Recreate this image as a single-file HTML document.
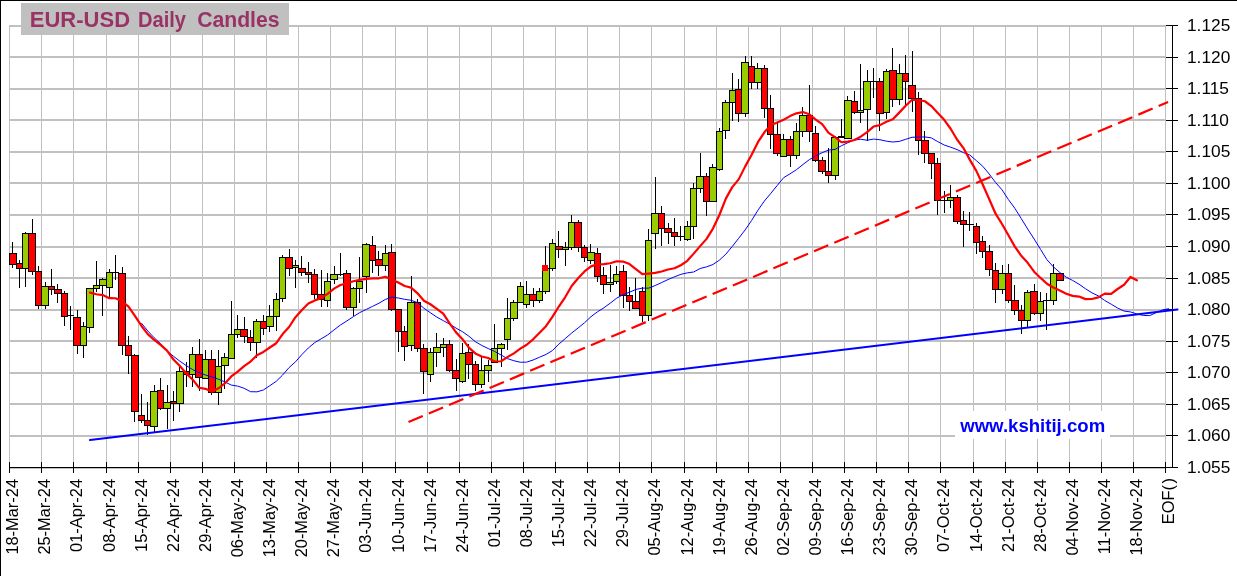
<!DOCTYPE html><html><head><meta charset="utf-8"><style>html,body{margin:0;padding:0;background:#fff;overflow:hidden;}svg{display:block;will-change:transform;}text{font-family:"Liberation Sans",sans-serif;}</style></head><body><svg width="1237" height="576" viewBox="0 0 1237 576"><rect x="0" y="0" width="1237" height="576" fill="#fff"/><g stroke="#c0c0c0" stroke-width="1" shape-rendering="crispEdges" fill="none"><line x1="9.5" y1="25" x2="9.5" y2="467"/><line x1="41.5" y1="25" x2="41.5" y2="467"/><line x1="73.5" y1="25" x2="73.5" y2="467"/><line x1="106.5" y1="25" x2="106.5" y2="467"/><line x1="138.5" y1="25" x2="138.5" y2="467"/><line x1="170.5" y1="25" x2="170.5" y2="467"/><line x1="202.5" y1="25" x2="202.5" y2="467"/><line x1="234.5" y1="25" x2="234.5" y2="467"/><line x1="266.5" y1="25" x2="266.5" y2="467"/><line x1="298.5" y1="25" x2="298.5" y2="467"/><line x1="330.5" y1="25" x2="330.5" y2="467"/><line x1="362.5" y1="25" x2="362.5" y2="467"/><line x1="395.5" y1="25" x2="395.5" y2="467"/><line x1="427.5" y1="25" x2="427.5" y2="467"/><line x1="459.5" y1="25" x2="459.5" y2="467"/><line x1="491.5" y1="25" x2="491.5" y2="467"/><line x1="523.5" y1="25" x2="523.5" y2="467"/><line x1="555.5" y1="25" x2="555.5" y2="467"/><line x1="587.5" y1="25" x2="587.5" y2="467"/><line x1="619.5" y1="25" x2="619.5" y2="467"/><line x1="651.5" y1="25" x2="651.5" y2="467"/><line x1="684.5" y1="25" x2="684.5" y2="467"/><line x1="716.5" y1="25" x2="716.5" y2="467"/><line x1="748.5" y1="25" x2="748.5" y2="467"/><line x1="780.5" y1="25" x2="780.5" y2="467"/><line x1="812.5" y1="25" x2="812.5" y2="467"/><line x1="844.5" y1="25" x2="844.5" y2="467"/><line x1="876.5" y1="25" x2="876.5" y2="467"/><line x1="908.5" y1="25" x2="908.5" y2="467"/><line x1="940.5" y1="25" x2="940.5" y2="467"/><line x1="973.5" y1="25" x2="973.5" y2="467"/><line x1="1005.5" y1="25" x2="1005.5" y2="467"/><line x1="1037.5" y1="25" x2="1037.5" y2="467"/><line x1="1069.5" y1="25" x2="1069.5" y2="467"/><line x1="1101.5" y1="25" x2="1101.5" y2="467"/><line x1="1133.5" y1="25" x2="1133.5" y2="467"/><line x1="1165.5" y1="25" x2="1165.5" y2="467"/><line x1="9" y1="26" x2="1166" y2="26" stroke-width="2"/><line x1="9" y1="57" x2="1166" y2="57" stroke-width="2"/><line x1="9" y1="89" x2="1166" y2="89" stroke-width="2"/><line x1="9" y1="120" x2="1166" y2="120" stroke-width="2"/><line x1="9" y1="152" x2="1166" y2="152" stroke-width="2"/><line x1="9" y1="183" x2="1166" y2="183" stroke-width="2"/><line x1="9" y1="215" x2="1166" y2="215" stroke-width="2"/><line x1="9" y1="247" x2="1166" y2="247" stroke-width="2"/><line x1="9" y1="278" x2="1166" y2="278" stroke-width="2"/><line x1="9" y1="310" x2="1166" y2="310" stroke-width="2"/><line x1="9" y1="341" x2="1166" y2="341" stroke-width="2"/><line x1="9" y1="373" x2="1166" y2="373" stroke-width="2"/><line x1="9" y1="404" x2="1166" y2="404" stroke-width="2"/><line x1="9" y1="436" x2="1166" y2="436" stroke-width="2"/><line x1="9" y1="468" x2="1166" y2="468" stroke-width="2"/></g><g stroke="#000" stroke-width="1" shape-rendering="crispEdges" fill="none"><line x1="1172.5" y1="25" x2="1172.5" y2="468"/><line x1="9" y1="467.5" x2="1178" y2="467.5"/><line x1="1166" y1="25.5" x2="1178" y2="25.5"/><line x1="1166" y1="57.5" x2="1178" y2="57.5"/><line x1="1166" y1="88.5" x2="1178" y2="88.5"/><line x1="1166" y1="120.5" x2="1178" y2="120.5"/><line x1="1166" y1="151.5" x2="1178" y2="151.5"/><line x1="1166" y1="183.5" x2="1178" y2="183.5"/><line x1="1166" y1="214.5" x2="1178" y2="214.5"/><line x1="1166" y1="246.5" x2="1178" y2="246.5"/><line x1="1166" y1="278.5" x2="1178" y2="278.5"/><line x1="1166" y1="309.5" x2="1178" y2="309.5"/><line x1="1166" y1="341.5" x2="1178" y2="341.5"/><line x1="1166" y1="372.5" x2="1178" y2="372.5"/><line x1="1166" y1="404.5" x2="1178" y2="404.5"/><line x1="1166" y1="435.5" x2="1178" y2="435.5"/><line x1="1166" y1="467.5" x2="1178" y2="467.5"/><line x1="9.5" y1="462" x2="9.5" y2="473"/><line x1="41.5" y1="462" x2="41.5" y2="473"/><line x1="73.5" y1="462" x2="73.5" y2="473"/><line x1="106.5" y1="462" x2="106.5" y2="473"/><line x1="138.5" y1="462" x2="138.5" y2="473"/><line x1="170.5" y1="462" x2="170.5" y2="473"/><line x1="202.5" y1="462" x2="202.5" y2="473"/><line x1="234.5" y1="462" x2="234.5" y2="473"/><line x1="266.5" y1="462" x2="266.5" y2="473"/><line x1="298.5" y1="462" x2="298.5" y2="473"/><line x1="330.5" y1="462" x2="330.5" y2="473"/><line x1="362.5" y1="462" x2="362.5" y2="473"/><line x1="395.5" y1="462" x2="395.5" y2="473"/><line x1="427.5" y1="462" x2="427.5" y2="473"/><line x1="459.5" y1="462" x2="459.5" y2="473"/><line x1="491.5" y1="462" x2="491.5" y2="473"/><line x1="523.5" y1="462" x2="523.5" y2="473"/><line x1="555.5" y1="462" x2="555.5" y2="473"/><line x1="587.5" y1="462" x2="587.5" y2="473"/><line x1="619.5" y1="462" x2="619.5" y2="473"/><line x1="651.5" y1="462" x2="651.5" y2="473"/><line x1="684.5" y1="462" x2="684.5" y2="473"/><line x1="716.5" y1="462" x2="716.5" y2="473"/><line x1="748.5" y1="462" x2="748.5" y2="473"/><line x1="780.5" y1="462" x2="780.5" y2="473"/><line x1="812.5" y1="462" x2="812.5" y2="473"/><line x1="844.5" y1="462" x2="844.5" y2="473"/><line x1="876.5" y1="462" x2="876.5" y2="473"/><line x1="908.5" y1="462" x2="908.5" y2="473"/><line x1="940.5" y1="462" x2="940.5" y2="473"/><line x1="973.5" y1="462" x2="973.5" y2="473"/><line x1="1005.5" y1="462" x2="1005.5" y2="473"/><line x1="1037.5" y1="462" x2="1037.5" y2="473"/><line x1="1069.5" y1="462" x2="1069.5" y2="473"/><line x1="1101.5" y1="462" x2="1101.5" y2="473"/><line x1="1133.5" y1="462" x2="1133.5" y2="473"/><line x1="1165.5" y1="462" x2="1165.5" y2="473"/></g><g font-size="17.3" fill="#000"><text x="1187" y="31.3">1.125</text><text x="1187" y="63.3">1.120</text><text x="1187" y="94.3">1.115</text><text x="1187" y="126.3">1.110</text><text x="1187" y="157.3">1.105</text><text x="1187" y="189.3">1.100</text><text x="1187" y="220.3">1.095</text><text x="1187" y="252.3">1.090</text><text x="1187" y="284.3">1.085</text><text x="1187" y="315.3">1.080</text><text x="1187" y="347.3">1.075</text><text x="1187" y="378.3">1.070</text><text x="1187" y="410.3">1.065</text><text x="1187" y="441.3">1.060</text><text x="1187" y="473.3">1.055</text></g><g font-size="16.4" fill="#000" text-anchor="end"><text transform="translate(18,479) rotate(-90)" x="0" y="0">18-Mar-24</text><text transform="translate(50,479) rotate(-90)" x="0" y="0">25-Mar-24</text><text transform="translate(82,479) rotate(-90)" x="0" y="0">01-Apr-24</text><text transform="translate(115,479) rotate(-90)" x="0" y="0">08-Apr-24</text><text transform="translate(147,479) rotate(-90)" x="0" y="0">15-Apr-24</text><text transform="translate(179,479) rotate(-90)" x="0" y="0">22-Apr-24</text><text transform="translate(211,479) rotate(-90)" x="0" y="0">29-Apr-24</text><text transform="translate(243,479) rotate(-90)" x="0" y="0">06-May-24</text><text transform="translate(275,479) rotate(-90)" x="0" y="0">13-May-24</text><text transform="translate(307,479) rotate(-90)" x="0" y="0">20-May-24</text><text transform="translate(339,479) rotate(-90)" x="0" y="0">27-May-24</text><text transform="translate(371,479) rotate(-90)" x="0" y="0">03-Jun-24</text><text transform="translate(404,479) rotate(-90)" x="0" y="0">10-Jun-24</text><text transform="translate(436,479) rotate(-90)" x="0" y="0">17-Jun-24</text><text transform="translate(468,479) rotate(-90)" x="0" y="0">24-Jun-24</text><text transform="translate(500,479) rotate(-90)" x="0" y="0">01-Jul-24</text><text transform="translate(532,479) rotate(-90)" x="0" y="0">08-Jul-24</text><text transform="translate(564,479) rotate(-90)" x="0" y="0">15-Jul-24</text><text transform="translate(596,479) rotate(-90)" x="0" y="0">22-Jul-24</text><text transform="translate(628,479) rotate(-90)" x="0" y="0">29-Jul-24</text><text transform="translate(660,479) rotate(-90)" x="0" y="0">05-Aug-24</text><text transform="translate(693,479) rotate(-90)" x="0" y="0">12-Aug-24</text><text transform="translate(725,479) rotate(-90)" x="0" y="0">19-Aug-24</text><text transform="translate(757,479) rotate(-90)" x="0" y="0">26-Aug-24</text><text transform="translate(789,479) rotate(-90)" x="0" y="0">02-Sep-24</text><text transform="translate(821,479) rotate(-90)" x="0" y="0">09-Sep-24</text><text transform="translate(853,479) rotate(-90)" x="0" y="0">16-Sep-24</text><text transform="translate(885,479) rotate(-90)" x="0" y="0">23-Sep-24</text><text transform="translate(917,479) rotate(-90)" x="0" y="0">30-Sep-24</text><text transform="translate(949,479) rotate(-90)" x="0" y="0">07-Oct-24</text><text transform="translate(982,479) rotate(-90)" x="0" y="0">14-Oct-24</text><text transform="translate(1014,479) rotate(-90)" x="0" y="0">21-Oct-24</text><text transform="translate(1046,479) rotate(-90)" x="0" y="0">28-Oct-24</text><text transform="translate(1078,479) rotate(-90)" x="0" y="0">04-Nov-24</text><text transform="translate(1110,479) rotate(-90)" x="0" y="0">11-Nov-24</text><text transform="translate(1142,479) rotate(-90)" x="0" y="0">18-Nov-24</text><text transform="translate(1174,478) rotate(-90)" x="0" y="0">EOF(<tspan dx="1.5">)</tspan></text></g><g stroke="#000" stroke-width="1" shape-rendering="crispEdges"><line x1="12.5" y1="242" x2="12.5" y2="268"/><line x1="19.5" y1="260" x2="19.5" y2="288"/><line x1="25.5" y1="232" x2="25.5" y2="287"/><line x1="32.5" y1="219" x2="32.5" y2="275"/><line x1="38.5" y1="266" x2="38.5" y2="309"/><line x1="45.5" y1="282" x2="45.5" y2="309"/><line x1="51.5" y1="269" x2="51.5" y2="295"/><line x1="57.5" y1="284" x2="57.5" y2="303"/><line x1="64.5" y1="291" x2="64.5" y2="326"/><line x1="70.5" y1="306" x2="70.5" y2="330"/><line x1="77.5" y1="310" x2="77.5" y2="354"/><line x1="83.5" y1="322" x2="83.5" y2="358"/><line x1="89.5" y1="288" x2="89.5" y2="333"/><line x1="96.5" y1="261" x2="96.5" y2="292"/><line x1="102.5" y1="278" x2="102.5" y2="316"/><line x1="109.5" y1="269" x2="109.5" y2="297"/><line x1="115.5" y1="255" x2="115.5" y2="280"/><line x1="122.5" y1="267" x2="122.5" y2="355"/><line x1="128.5" y1="336" x2="128.5" y2="374"/><line x1="134.5" y1="354" x2="134.5" y2="422"/><line x1="141.5" y1="394" x2="141.5" y2="423"/><line x1="147.5" y1="402" x2="147.5" y2="435"/><line x1="154.5" y1="385" x2="154.5" y2="432"/><line x1="160.5" y1="378" x2="160.5" y2="410"/><line x1="167.5" y1="385" x2="167.5" y2="429"/><line x1="173.5" y1="391" x2="173.5" y2="421"/><line x1="179.5" y1="366" x2="179.5" y2="412"/><line x1="186.5" y1="362" x2="186.5" y2="387"/><line x1="192.5" y1="347" x2="192.5" y2="387"/><line x1="199.5" y1="339" x2="199.5" y2="391"/><line x1="205.5" y1="350" x2="205.5" y2="379"/><line x1="211.5" y1="350" x2="211.5" y2="395"/><line x1="218.5" y1="350" x2="218.5" y2="405"/><line x1="224.5" y1="353" x2="224.5" y2="389"/><line x1="231.5" y1="301" x2="231.5" y2="359"/><line x1="237.5" y1="315" x2="237.5" y2="338"/><line x1="244.5" y1="317" x2="244.5" y2="343"/><line x1="250.5" y1="330" x2="250.5" y2="351"/><line x1="256.5" y1="319" x2="256.5" y2="358"/><line x1="263.5" y1="315" x2="263.5" y2="335"/><line x1="269.5" y1="305" x2="269.5" y2="332"/><line x1="276.5" y1="293" x2="276.5" y2="331"/><line x1="282.5" y1="255" x2="282.5" y2="302"/><line x1="289.5" y1="249" x2="289.5" y2="276"/><line x1="295.5" y1="260" x2="295.5" y2="288"/><line x1="301.5" y1="256" x2="301.5" y2="276"/><line x1="308.5" y1="262" x2="308.5" y2="283"/><line x1="314.5" y1="269" x2="314.5" y2="299"/><line x1="321.5" y1="270" x2="321.5" y2="307"/><line x1="327.5" y1="273" x2="327.5" y2="307"/><line x1="334.5" y1="266" x2="334.5" y2="284"/><line x1="340.5" y1="253" x2="340.5" y2="276"/><line x1="346.5" y1="270" x2="346.5" y2="310"/><line x1="353.5" y1="287" x2="353.5" y2="316"/><line x1="359.5" y1="257" x2="359.5" y2="303"/><line x1="366.5" y1="243" x2="366.5" y2="293"/><line x1="372.5" y1="236" x2="372.5" y2="273"/><line x1="378.5" y1="251" x2="378.5" y2="276"/><line x1="385.5" y1="245" x2="385.5" y2="271"/><line x1="391.5" y1="244" x2="391.5" y2="311"/><line x1="398.5" y1="309" x2="398.5" y2="352"/><line x1="404.5" y1="326" x2="404.5" y2="361"/><line x1="411.5" y1="276" x2="411.5" y2="351"/><line x1="417.5" y1="299" x2="417.5" y2="352"/><line x1="423.5" y1="344" x2="423.5" y2="394"/><line x1="430.5" y1="348" x2="430.5" y2="382"/><line x1="436.5" y1="333" x2="436.5" y2="367"/><line x1="443.5" y1="338" x2="443.5" y2="357"/><line x1="449.5" y1="340" x2="449.5" y2="372"/><line x1="456.5" y1="359" x2="456.5" y2="391"/><line x1="462.5" y1="343" x2="462.5" y2="383"/><line x1="468.5" y1="344" x2="468.5" y2="379"/><line x1="475.5" y1="361" x2="475.5" y2="391"/><line x1="481.5" y1="357" x2="481.5" y2="388"/><line x1="488.5" y1="360" x2="488.5" y2="382"/><line x1="494.5" y1="324" x2="494.5" y2="363"/><line x1="501.5" y1="343" x2="501.5" y2="367"/><line x1="507.5" y1="298" x2="507.5" y2="350"/><line x1="513.5" y1="300" x2="513.5" y2="321"/><line x1="520.5" y1="282" x2="520.5" y2="303"/><line x1="526.5" y1="281" x2="526.5" y2="308"/><line x1="533.5" y1="288" x2="533.5" y2="307"/><line x1="539.5" y1="288" x2="539.5" y2="303"/><line x1="545.5" y1="246" x2="545.5" y2="294"/><line x1="552.5" y1="239" x2="552.5" y2="271"/><line x1="558.5" y1="231" x2="558.5" y2="258"/><line x1="565.5" y1="242" x2="565.5" y2="266"/><line x1="571.5" y1="215" x2="571.5" y2="250"/><line x1="578.5" y1="220" x2="578.5" y2="252"/><line x1="584.5" y1="245" x2="584.5" y2="262"/><line x1="590.5" y1="244" x2="590.5" y2="264"/><line x1="597.5" y1="248" x2="597.5" y2="282"/><line x1="603.5" y1="267" x2="603.5" y2="294"/><line x1="610.5" y1="265" x2="610.5" y2="292"/><line x1="616.5" y1="266" x2="616.5" y2="284"/><line x1="623.5" y1="265" x2="623.5" y2="308"/><line x1="629.5" y1="287" x2="629.5" y2="311"/><line x1="635.5" y1="278" x2="635.5" y2="309"/><line x1="642.5" y1="287" x2="642.5" y2="322"/><line x1="648.5" y1="229" x2="648.5" y2="321"/><line x1="655.5" y1="177" x2="655.5" y2="249"/><line x1="661.5" y1="206" x2="661.5" y2="246"/><line x1="668.5" y1="223" x2="668.5" y2="244"/><line x1="674.5" y1="218" x2="674.5" y2="246"/><line x1="680.5" y1="226" x2="680.5" y2="241"/><line x1="687.5" y1="221" x2="687.5" y2="241"/><line x1="693.5" y1="183" x2="693.5" y2="239"/><line x1="700.5" y1="153" x2="700.5" y2="193"/><line x1="706.5" y1="173" x2="706.5" y2="216"/><line x1="712.5" y1="164" x2="712.5" y2="202"/><line x1="719.5" y1="128" x2="719.5" y2="171"/><line x1="725.5" y1="100" x2="725.5" y2="139"/><line x1="732.5" y1="73" x2="732.5" y2="121"/><line x1="738.5" y1="79" x2="738.5" y2="122"/><line x1="745.5" y1="56" x2="745.5" y2="117"/><line x1="751.5" y1="56" x2="751.5" y2="89"/><line x1="757.5" y1="63" x2="757.5" y2="89"/><line x1="764.5" y1="65" x2="764.5" y2="118"/><line x1="770.5" y1="95" x2="770.5" y2="149"/><line x1="777.5" y1="123" x2="777.5" y2="156"/><line x1="783.5" y1="134" x2="783.5" y2="157"/><line x1="790.5" y1="136" x2="790.5" y2="167"/><line x1="796.5" y1="123" x2="796.5" y2="159"/><line x1="802.5" y1="107" x2="802.5" y2="137"/><line x1="809.5" y1="85" x2="809.5" y2="142"/><line x1="815.5" y1="126" x2="815.5" y2="162"/><line x1="822.5" y1="157" x2="822.5" y2="174"/><line x1="828.5" y1="148" x2="828.5" y2="183"/><line x1="835.5" y1="136" x2="835.5" y2="180"/><line x1="841.5" y1="119" x2="841.5" y2="138"/><line x1="847.5" y1="96" x2="847.5" y2="139"/><line x1="854.5" y1="91" x2="854.5" y2="114"/><line x1="860.5" y1="64" x2="860.5" y2="123"/><line x1="867.5" y1="70" x2="867.5" y2="141"/><line x1="873.5" y1="68" x2="873.5" y2="98"/><line x1="879.5" y1="78" x2="879.5" y2="131"/><line x1="886.5" y1="69" x2="886.5" y2="119"/><line x1="892.5" y1="48" x2="892.5" y2="107"/><line x1="899.5" y1="64" x2="899.5" y2="105"/><line x1="905.5" y1="55" x2="905.5" y2="105"/><line x1="912.5" y1="51" x2="912.5" y2="112"/><line x1="918.5" y1="92" x2="918.5" y2="155"/><line x1="924.5" y1="131" x2="924.5" y2="163"/><line x1="931.5" y1="153" x2="931.5" y2="179"/><line x1="937.5" y1="158" x2="937.5" y2="215"/><line x1="944.5" y1="191" x2="944.5" y2="213"/><line x1="950.5" y1="185" x2="950.5" y2="208"/><line x1="957.5" y1="195" x2="957.5" y2="224"/><line x1="963.5" y1="211" x2="963.5" y2="247"/><line x1="969.5" y1="212" x2="969.5" y2="231"/><line x1="976.5" y1="223" x2="976.5" y2="254"/><line x1="982.5" y1="236" x2="982.5" y2="258"/><line x1="989.5" y1="245" x2="989.5" y2="276"/><line x1="995.5" y1="263" x2="995.5" y2="303"/><line x1="1002.5" y1="265" x2="1002.5" y2="294"/><line x1="1008.5" y1="264" x2="1008.5" y2="303"/><line x1="1014.5" y1="285" x2="1014.5" y2="315"/><line x1="1021.5" y1="305" x2="1021.5" y2="334"/><line x1="1027.5" y1="290" x2="1027.5" y2="327"/><line x1="1034.5" y1="284" x2="1034.5" y2="315"/><line x1="1040.5" y1="292" x2="1040.5" y2="321"/><line x1="1046.5" y1="293" x2="1046.5" y2="330"/><line x1="1053.5" y1="264" x2="1053.5" y2="305"/><line x1="1059.5" y1="273" x2="1059.5" y2="281"/><rect x="9.5" y="253.5" width="7" height="11" fill="#ff0000" stroke="#000"/><rect x="16.5" y="263.5" width="6" height="5" fill="#ff0000" stroke="#000"/><rect x="22.5" y="233.5" width="6" height="35" fill="#99cc00" stroke="#000"/><rect x="28.5" y="233.5" width="7" height="38" fill="#ff0000" stroke="#000"/><rect x="35.5" y="271.5" width="6" height="34" fill="#ff0000" stroke="#000"/><rect x="41.5" y="286.5" width="7" height="19" fill="#99cc00" stroke="#000"/><rect x="48.5" y="286.5" width="6" height="3" fill="#ff0000" stroke="#000"/><rect x="54.5" y="289.5" width="7" height="4" fill="#ff0000" stroke="#000"/><rect x="61.5" y="293.5" width="6" height="23" fill="#ff0000" stroke="#000"/><line x1="67" y1="315.5" x2="74" y2="315.5" stroke="#000"/><rect x="73.5" y="317.5" width="7" height="28" fill="#ff0000" stroke="#000"/><rect x="80.5" y="326.5" width="6" height="19" fill="#99cc00" stroke="#000"/><rect x="86.5" y="288.5" width="7" height="39" fill="#99cc00" stroke="#000"/><rect x="93.5" y="285.5" width="6" height="3" fill="#99cc00" stroke="#000"/><rect x="99.5" y="279.5" width="7" height="6" fill="#99cc00" stroke="#000"/><rect x="106.5" y="272.5" width="6" height="15" fill="#99cc00" stroke="#000"/><line x1="112" y1="272.5" x2="119" y2="272.5" stroke="#000"/><rect x="118.5" y="273.5" width="7" height="72" fill="#ff0000" stroke="#000"/><rect x="125.5" y="345.5" width="6" height="10" fill="#ff0000" stroke="#000"/><rect x="131.5" y="355.5" width="7" height="56" fill="#ff0000" stroke="#000"/><rect x="138.5" y="415.5" width="6" height="5" fill="#ff0000" stroke="#000"/><rect x="144.5" y="420.5" width="6" height="5" fill="#ff0000" stroke="#000"/><rect x="150.5" y="391.5" width="7" height="35" fill="#99cc00" stroke="#000"/><rect x="157.5" y="390.5" width="6" height="18" fill="#ff0000" stroke="#000"/><rect x="163.5" y="402.5" width="7" height="6" fill="#99cc00" stroke="#000"/><rect x="170.5" y="401.5" width="6" height="2" fill="#ff0000" stroke="#000"/><rect x="176.5" y="371.5" width="7" height="32" fill="#99cc00" stroke="#000"/><rect x="183.5" y="371.5" width="6" height="3" fill="#ff0000" stroke="#000"/><rect x="189.5" y="354.5" width="6" height="20" fill="#99cc00" stroke="#000"/><rect x="195.5" y="354.5" width="7" height="23" fill="#ff0000" stroke="#000"/><rect x="202.5" y="359.5" width="6" height="19" fill="#99cc00" stroke="#000"/><rect x="208.5" y="359.5" width="7" height="33" fill="#ff0000" stroke="#000"/><rect x="215.5" y="366.5" width="6" height="26" fill="#99cc00" stroke="#000"/><rect x="221.5" y="357.5" width="7" height="8" fill="#99cc00" stroke="#000"/><rect x="228.5" y="334.5" width="6" height="24" fill="#99cc00" stroke="#000"/><rect x="234.5" y="329.5" width="6" height="5" fill="#99cc00" stroke="#000"/><rect x="240.5" y="329.5" width="7" height="7" fill="#ff0000" stroke="#000"/><rect x="247.5" y="337.5" width="6" height="5" fill="#ff0000" stroke="#000"/><rect x="253.5" y="321.5" width="7" height="21" fill="#99cc00" stroke="#000"/><rect x="260.5" y="321.5" width="6" height="7" fill="#ff0000" stroke="#000"/><rect x="266.5" y="316.5" width="7" height="10" fill="#99cc00" stroke="#000"/><rect x="273.5" y="299.5" width="6" height="17" fill="#99cc00" stroke="#000"/><rect x="279.5" y="257.5" width="6" height="41" fill="#99cc00" stroke="#000"/><rect x="285.5" y="257.5" width="7" height="11" fill="#ff0000" stroke="#000"/><rect x="292.5" y="265.5" width="6" height="2" fill="#99cc00" stroke="#000"/><rect x="298.5" y="268.5" width="7" height="4" fill="#ff0000" stroke="#000"/><rect x="305.5" y="272.5" width="6" height="2" fill="#ff0000" stroke="#000"/><rect x="311.5" y="274.5" width="6" height="20" fill="#ff0000" stroke="#000"/><rect x="317.5" y="294.5" width="7" height="5" fill="#ff0000" stroke="#000"/><rect x="324.5" y="281.5" width="6" height="19" fill="#99cc00" stroke="#000"/><rect x="330.5" y="274.5" width="7" height="5" fill="#99cc00" stroke="#000"/><line x1="337" y1="274.5" x2="344" y2="274.5" stroke="#000"/><rect x="343.5" y="273.5" width="7" height="34" fill="#ff0000" stroke="#000"/><rect x="350.5" y="288.5" width="6" height="19" fill="#99cc00" stroke="#000"/><rect x="356.5" y="281.5" width="6" height="7" fill="#99cc00" stroke="#000"/><rect x="362.5" y="244.5" width="7" height="32" fill="#99cc00" stroke="#000"/><rect x="369.5" y="245.5" width="6" height="15" fill="#ff0000" stroke="#000"/><rect x="375.5" y="259.5" width="7" height="6" fill="#ff0000" stroke="#000"/><rect x="382.5" y="253.5" width="6" height="12" fill="#99cc00" stroke="#000"/><rect x="388.5" y="252.5" width="7" height="57" fill="#ff0000" stroke="#000"/><rect x="395.5" y="309.5" width="6" height="22" fill="#ff0000" stroke="#000"/><rect x="401.5" y="331.5" width="6" height="15" fill="#ff0000" stroke="#000"/><rect x="407.5" y="302.5" width="7" height="43" fill="#99cc00" stroke="#000"/><rect x="414.5" y="302.5" width="6" height="46" fill="#ff0000" stroke="#000"/><rect x="420.5" y="348.5" width="7" height="23" fill="#ff0000" stroke="#000"/><rect x="427.5" y="352.5" width="6" height="22" fill="#99cc00" stroke="#000"/><rect x="433.5" y="347.5" width="7" height="5" fill="#99cc00" stroke="#000"/><rect x="440.5" y="344.5" width="6" height="3" fill="#99cc00" stroke="#000"/><rect x="446.5" y="344.5" width="6" height="26" fill="#ff0000" stroke="#000"/><rect x="452.5" y="370.5" width="7" height="8" fill="#ff0000" stroke="#000"/><rect x="459.5" y="353.5" width="6" height="28" fill="#99cc00" stroke="#000"/><rect x="465.5" y="352.5" width="7" height="12" fill="#ff0000" stroke="#000"/><rect x="472.5" y="364.5" width="6" height="20" fill="#ff0000" stroke="#000"/><rect x="478.5" y="370.5" width="6" height="14" fill="#99cc00" stroke="#000"/><rect x="484.5" y="365.5" width="7" height="5" fill="#99cc00" stroke="#000"/><rect x="491.5" y="348.5" width="6" height="14" fill="#99cc00" stroke="#000"/><rect x="497.5" y="344.5" width="7" height="4" fill="#99cc00" stroke="#000"/><rect x="504.5" y="318.5" width="6" height="21" fill="#99cc00" stroke="#000"/><rect x="510.5" y="302.5" width="7" height="16" fill="#99cc00" stroke="#000"/><rect x="517.5" y="286.5" width="6" height="16" fill="#99cc00" stroke="#000"/><rect x="523.5" y="294.5" width="6" height="10" fill="#99cc00" stroke="#000"/><rect x="529.5" y="294.5" width="7" height="6" fill="#ff0000" stroke="#000"/><rect x="536.5" y="291.5" width="6" height="9" fill="#99cc00" stroke="#000"/><rect x="542.5" y="268.5" width="7" height="23" fill="#99cc00" stroke="#000"/><rect x="549.5" y="243.5" width="6" height="25" fill="#99cc00" stroke="#000"/><rect x="555.5" y="246.5" width="7" height="3" fill="#ff0000" stroke="#000"/><rect x="562.5" y="247.5" width="6" height="2" fill="#99cc00" stroke="#000"/><rect x="568.5" y="222.5" width="6" height="25" fill="#99cc00" stroke="#000"/><rect x="574.5" y="222.5" width="7" height="25" fill="#ff0000" stroke="#000"/><rect x="581.5" y="247.5" width="6" height="10" fill="#ff0000" stroke="#000"/><rect x="587.5" y="252.5" width="7" height="8" fill="#99cc00" stroke="#000"/><rect x="594.5" y="253.5" width="6" height="23" fill="#ff0000" stroke="#000"/><rect x="600.5" y="275.5" width="6" height="9" fill="#ff0000" stroke="#000"/><rect x="606.5" y="282.5" width="7" height="2" fill="#99cc00" stroke="#000"/><rect x="613.5" y="274.5" width="6" height="7" fill="#99cc00" stroke="#000"/><rect x="619.5" y="271.5" width="7" height="24" fill="#ff0000" stroke="#000"/><rect x="626.5" y="295.5" width="6" height="6" fill="#ff0000" stroke="#000"/><rect x="632.5" y="301.5" width="7" height="7" fill="#ff0000" stroke="#000"/><rect x="639.5" y="291.5" width="6" height="24" fill="#ff0000" stroke="#000"/><rect x="645.5" y="240.5" width="6" height="75" fill="#99cc00" stroke="#000"/><rect x="651.5" y="213.5" width="7" height="20" fill="#99cc00" stroke="#000"/><rect x="658.5" y="213.5" width="6" height="15" fill="#ff0000" stroke="#000"/><rect x="664.5" y="228.5" width="7" height="4" fill="#ff0000" stroke="#000"/><rect x="671.5" y="232.5" width="6" height="4" fill="#ff0000" stroke="#000"/><line x1="677" y1="236.5" x2="685" y2="236.5" stroke="#000"/><rect x="684.5" y="226.5" width="6" height="13" fill="#99cc00" stroke="#000"/><rect x="690.5" y="188.5" width="6" height="38" fill="#99cc00" stroke="#000"/><rect x="696.5" y="176.5" width="7" height="12" fill="#99cc00" stroke="#000"/><rect x="703.5" y="176.5" width="6" height="25" fill="#ff0000" stroke="#000"/><rect x="709.5" y="167.5" width="7" height="34" fill="#99cc00" stroke="#000"/><rect x="716.5" y="131.5" width="6" height="38" fill="#99cc00" stroke="#000"/><rect x="722.5" y="102.5" width="7" height="28" fill="#99cc00" stroke="#000"/><rect x="729.5" y="90.5" width="6" height="12" fill="#99cc00" stroke="#000"/><rect x="735.5" y="89.5" width="6" height="24" fill="#ff0000" stroke="#000"/><rect x="741.5" y="62.5" width="7" height="51" fill="#99cc00" stroke="#000"/><rect x="748.5" y="66.5" width="6" height="16" fill="#ff0000" stroke="#000"/><rect x="754.5" y="68.5" width="7" height="14" fill="#99cc00" stroke="#000"/><rect x="761.5" y="68.5" width="6" height="40" fill="#ff0000" stroke="#000"/><rect x="767.5" y="108.5" width="6" height="26" fill="#ff0000" stroke="#000"/><rect x="773.5" y="134.5" width="7" height="19" fill="#ff0000" stroke="#000"/><rect x="780.5" y="139.5" width="6" height="17" fill="#99cc00" stroke="#000"/><rect x="786.5" y="139.5" width="7" height="16" fill="#ff0000" stroke="#000"/><rect x="793.5" y="131.5" width="6" height="24" fill="#99cc00" stroke="#000"/><rect x="799.5" y="115.5" width="7" height="16" fill="#99cc00" stroke="#000"/><rect x="806.5" y="115.5" width="6" height="16" fill="#ff0000" stroke="#000"/><rect x="812.5" y="133.5" width="6" height="27" fill="#ff0000" stroke="#000"/><rect x="818.5" y="160.5" width="7" height="11" fill="#ff0000" stroke="#000"/><rect x="825.5" y="171.5" width="6" height="4" fill="#ff0000" stroke="#000"/><rect x="831.5" y="137.5" width="7" height="38" fill="#99cc00" stroke="#000"/><rect x="838.5" y="136.5" width="6" height="1" fill="#99cc00" stroke="#000"/><rect x="844.5" y="100.5" width="7" height="38" fill="#99cc00" stroke="#000"/><rect x="851.5" y="101.5" width="6" height="11" fill="#ff0000" stroke="#000"/><rect x="857.5" y="110.5" width="6" height="2" fill="#99cc00" stroke="#000"/><rect x="863.5" y="81.5" width="7" height="28" fill="#99cc00" stroke="#000"/><line x1="870" y1="81.5" x2="877" y2="81.5" stroke="#000"/><rect x="876.5" y="81.5" width="7" height="32" fill="#ff0000" stroke="#000"/><rect x="883.5" y="71.5" width="6" height="41" fill="#99cc00" stroke="#000"/><rect x="889.5" y="70.5" width="7" height="29" fill="#ff0000" stroke="#000"/><rect x="896.5" y="73.5" width="6" height="26" fill="#99cc00" stroke="#000"/><rect x="902.5" y="73.5" width="6" height="8" fill="#ff0000" stroke="#000"/><rect x="908.5" y="85.5" width="7" height="13" fill="#ff0000" stroke="#000"/><rect x="915.5" y="98.5" width="6" height="42" fill="#ff0000" stroke="#000"/><rect x="921.5" y="140.5" width="7" height="13" fill="#ff0000" stroke="#000"/><rect x="928.5" y="153.5" width="6" height="10" fill="#ff0000" stroke="#000"/><rect x="934.5" y="163.5" width="6" height="37" fill="#ff0000" stroke="#000"/><line x1="940" y1="200.5" x2="948" y2="200.5" stroke="#000"/><rect x="947.5" y="197.5" width="6" height="3" fill="#99cc00" stroke="#000"/><rect x="953.5" y="197.5" width="7" height="24" fill="#ff0000" stroke="#000"/><rect x="960.5" y="220.5" width="6" height="4" fill="#ff0000" stroke="#000"/><line x1="966" y1="224.5" x2="974" y2="224.5" stroke="#000"/><rect x="973.5" y="226.5" width="6" height="16" fill="#ff0000" stroke="#000"/><rect x="979.5" y="241.5" width="6" height="10" fill="#ff0000" stroke="#000"/><rect x="985.5" y="251.5" width="7" height="18" fill="#ff0000" stroke="#000"/><rect x="992.5" y="270.5" width="6" height="19" fill="#ff0000" stroke="#000"/><rect x="998.5" y="273.5" width="7" height="16" fill="#99cc00" stroke="#000"/><rect x="1005.5" y="273.5" width="6" height="27" fill="#ff0000" stroke="#000"/><rect x="1011.5" y="300.5" width="7" height="10" fill="#ff0000" stroke="#000"/><rect x="1018.5" y="310.5" width="6" height="10" fill="#ff0000" stroke="#000"/><rect x="1024.5" y="292.5" width="6" height="28" fill="#99cc00" stroke="#000"/><rect x="1030.5" y="291.5" width="7" height="22" fill="#ff0000" stroke="#000"/><rect x="1037.5" y="301.5" width="6" height="12" fill="#99cc00" stroke="#000"/><line x1="1043" y1="300.5" x2="1051" y2="300.5" stroke="#000"/><rect x="1050.5" y="273.5" width="6" height="27" fill="#99cc00" stroke="#000"/><rect x="1056.5" y="273.5" width="7" height="7" fill="#ff0000" stroke="#000"/><rect x="542" y="265" width="6" height="6" fill="#ff0000" stroke="none"/></g><polyline points="141.35,323.02 147.77,330.96 154.19,337.82 160.61,343.65 167.04,350.96 173.46,356.28 179.88,361.20 186.30,365.62 192.73,369.63 199.15,372.69 205.57,375.01 212.00,376.96 218.42,379.21 224.84,381.87 231.26,385.07 237.69,386.10 244.11,388.29 250.53,391.70 256.96,391.84 263.38,389.98 269.80,385.69 276.22,381.32 282.65,375.01 289.07,367.59 295.49,361.80 301.92,354.54 308.34,348.00 314.76,342.60 321.18,338.79 327.61,334.98 334.03,329.91 340.45,324.99 346.88,320.91 353.30,316.68 359.72,312.60 366.14,309.46 372.57,306.37 378.99,303.19 385.41,299.38 391.83,297.13 398.26,297.97 404.68,299.33 411.10,300.28 417.53,302.66 423.95,308.26 430.37,312.74 436.79,317.07 443.22,320.60 449.64,324.10 456.06,328.10 462.49,331.71 468.91,336.22 475.33,341.70 481.75,345.42 488.18,348.56 494.60,351.42 501.02,354.95 507.44,358.63 513.87,360.73 520.29,362.24 526.71,362.11 533.14,359.97 539.56,357.21 545.98,354.46 552.40,350.60 558.83,344.14 565.25,338.59 571.67,333.02 578.10,327.99 584.52,322.76 590.94,316.69 597.36,311.89 603.79,307.86 610.21,303.17 616.63,298.23 623.06,294.71 629.48,292.23 635.90,289.46 642.32,288.11 648.75,288.15 655.17,285.55 661.59,282.58 668.01,279.56 674.44,276.82 680.86,274.33 687.28,272.89 693.71,271.97 700.13,268.51 706.55,266.87 712.97,264.51 719.40,260.14 725.82,254.19 732.24,246.49 738.67,238.30 745.09,229.97 751.51,220.66 757.93,210.22 764.36,201.04 770.78,193.41 777.20,185.49 783.63,177.67 790.05,173.80 796.47,169.67 802.89,164.59 809.32,159.66 815.74,155.90 822.16,152.70 828.58,150.05 835.01,149.44 841.43,145.73 847.85,142.73 854.28,140.03 860.70,139.28 867.12,140.23 873.54,139.08 879.97,139.74 886.39,141.17 892.81,142.02 899.24,141.41 905.66,139.31 912.08,137.25 918.50,137.14 924.93,136.94 931.35,137.90 937.77,141.61 944.20,144.99 950.62,147.17 957.04,149.57 963.46,152.63 969.89,155.06 976.31,160.58 982.73,166.24 989.15,173.94 995.58,182.51 1002.00,189.81 1008.42,199.58 1014.85,208.32 1021.27,218.56 1027.69,229.04 1034.11,239.01 1040.54,249.33 1046.96,259.71 1053.38,266.85 1059.81,272.46 1066.23,277.17 1072.65,280.46 1079.07,284.23 1085.50,288.75 1091.92,292.81 1098.34,295.89 1104.77,300.54 1111.19,304.17 1117.61,308.06 1124.03,311.06 1130.46,311.92 1136.88,313.99 1143.30,315.43 1149.73,315.60 1156.15,312.65 1162.57,309.84 1168.99,308.75" fill="none" stroke="#0000ff" stroke-width="1" stroke-linejoin="round"/><polyline points="89.96,292.62 96.39,294.28 102.81,295.12 109.23,298.14 115.65,298.23 122.08,301.27 128.50,306.55 134.92,315.94 141.35,325.72 147.77,334.12 154.19,339.95 160.61,344.82 167.04,350.65 173.46,359.48 179.88,366.05 186.30,373.36 192.73,379.68 199.15,387.72 205.57,388.83 212.00,391.69 218.42,388.26 224.84,383.42 231.26,376.45 237.69,371.68 244.11,366.17 250.53,361.52 256.96,355.25 263.38,351.92 269.80,347.49 276.22,343.22 282.65,334.03 289.07,327.00 295.49,317.22 301.92,309.93 308.34,303.52 314.76,300.41 321.18,298.10 327.61,293.84 334.03,288.65 340.45,285.01 346.88,283.43 353.30,281.28 359.72,279.93 366.14,278.93 372.57,278.32 378.99,278.29 385.41,276.88 391.83,279.58 398.26,282.43 404.68,286.02 411.10,287.65 417.53,293.32 423.95,300.79 430.37,304.25 436.79,308.80 443.22,313.65 449.64,323.32 456.06,332.38 462.49,339.15 468.91,347.65 475.33,353.42 481.75,356.45 488.18,357.95 494.60,361.51 501.02,361.23 507.44,357.18 513.87,353.34 520.29,348.61 526.71,344.76 533.14,339.35 539.56,332.68 545.98,326.19 552.40,316.92 558.83,306.52 565.25,297.03 571.67,286.01 578.10,278.18 584.52,271.46 590.94,266.37 597.36,264.35 603.79,264.19 610.21,263.22 616.63,261.27 623.06,261.57 629.48,264.08 635.90,269.05 642.32,274.14 648.75,273.58 655.17,272.91 661.59,271.47 668.01,269.52 674.44,268.28 680.86,265.23 687.28,260.81 693.71,253.63 700.13,246.09 706.55,238.87 712.97,228.58 719.40,215.01 725.82,198.65 732.24,187.11 738.67,179.38 745.09,166.63 751.51,155.09 757.93,142.20 764.36,132.32 770.78,125.21 777.20,122.52 783.63,119.67 790.05,116.11 796.47,113.32 802.89,112.06 809.32,114.28 815.74,119.66 822.16,124.12 828.58,132.80 835.01,137.07 841.43,142.27 847.85,141.65 854.28,139.95 860.70,136.65 867.12,132.18 873.54,126.55 879.97,125.14 886.39,121.75 892.81,119.28 899.24,112.62 905.66,105.70 912.08,99.78 918.50,99.97 924.93,101.25 931.35,106.10 937.77,112.93 944.20,119.85 950.62,128.76 957.04,139.50 963.46,148.05 969.89,159.85 976.31,170.88 982.73,184.54 989.15,199.02 995.58,213.70 1002.00,223.98 1008.42,235.29 1014.85,246.60 1021.27,255.79 1027.69,262.85 1034.11,271.73 1040.54,277.92 1046.96,283.77 1053.38,287.54 1059.81,290.45 1066.23,293.71 1072.65,295.91 1079.07,296.58 1085.50,299.12 1091.92,299.01 1098.34,297.40 1104.77,293.58 1111.19,293.80 1117.61,289.00 1124.03,284.77 1130.46,277.00 1136.88,280.30" fill="none" stroke="#ff0000" stroke-width="2.2" stroke-linejoin="round" stroke-linecap="round"/><line x1="90" y1="440.1" x2="1177.5" y2="309.6" stroke="#0000ff" stroke-width="2" stroke-linecap="round"/><line x1="408.5" y1="422.1" x2="1168.1" y2="102.1" stroke="#ff0000" stroke-width="2.2" stroke-dasharray="15.5,6.5"/><rect x="21" y="3" width="268" height="32" fill="#c0c0c0"/><g font-size="22" font-weight="bold" fill="#993366"><text transform="translate(29.8,27) scale(1.0,1)">EUR-USD</text><text transform="translate(138.0,27) scale(0.914,1)">Daily</text><text transform="translate(197.2,27) scale(0.963,1)">Candles</text></g><rect x="955" y="411" width="155" height="28" fill="#fff"/><text x="960.2" y="432" font-size="18.6" font-weight="bold" fill="#0000ff">www.kshitij.com</text><rect x="0" y="0" width="1237" height="1" fill="#000"/><rect x="0" y="0" width="1" height="576" fill="#000"/></svg></body></html>
